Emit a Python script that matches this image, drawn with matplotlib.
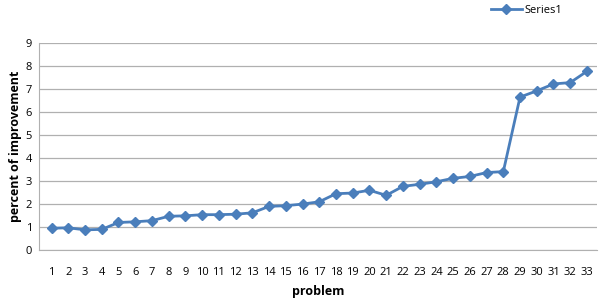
import matplotlib
matplotlib.use("Agg")
import matplotlib.pyplot as plt

plt.rcParams['font.family'] = ['Open Sans', 'DejaVu Sans']

problems = list(range(1, 34))
improvement = [0.95, 0.97, 0.88, 0.90, 1.20, 1.23, 1.28, 1.47, 1.49, 1.54, 1.54,
               1.56, 1.62, 1.90, 1.93, 2.00, 2.10, 2.45, 2.48, 2.60, 2.38, 2.77,
               2.86, 2.97, 3.12, 3.20, 3.37, 3.41, 6.65, 6.92, 7.22, 7.28, 7.77]
yticks = list(range(0, 10))

fig = plt.figure(figsize=(6, 3.05), dpi=100)
ax = fig.add_axes([0.065, 0.18, 0.93, 0.679])

ax.plot(problems, improvement, color='#4a7ebb', lw=2, marker='D', ms=5,
        label='Series1')

ax.set_xlim(0.25, 33.6)
ax.set_ylim(0, 9)
ax.set_xticks(problems)
ax.set_yticks(yticks)
ax.tick_params(labelsize=8, length=0)
ax.tick_params(axis='x', pad=12)
ax.tick_params(axis='y', pad=5)
ax.grid(axis='y', color='#b0b0b0', lw=0.9)
ax.set_axisbelow(True)
for s in ['top', 'right']:
    ax.spines[s].set_visible(False)
for s in ['left', 'bottom']:
    ax.spines[s].set_color('#b0b0b0')

ax.set_xlabel('problem', fontsize=9, fontweight='bold', labelpad=5)
ax.set_ylabel('percent of improvement', fontsize=9, fontweight='bold', labelpad=3)

ax.legend(loc='upper right', bbox_to_anchor=(0.955, 1.23), frameon=False,
          fontsize=8, handlelength=2.8, handletextpad=0.2)

fig.savefig('out.png')
